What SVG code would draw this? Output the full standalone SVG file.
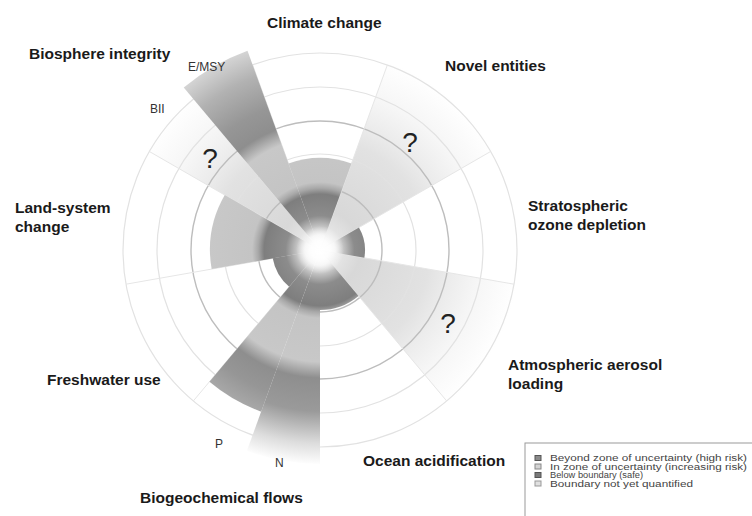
<svg xmlns="http://www.w3.org/2000/svg" width="752" height="516" viewBox="0 0 752 516">
<style>
.lbl{font-family:"Liberation Sans",Arial,sans-serif;font-weight:bold;font-size:15.5px;fill:#1a1a1a}
.sub{font-family:"Liberation Sans",Arial,sans-serif;font-size:12px;fill:#333}
.q{font-family:"Liberation Sans",Arial,sans-serif;font-size:28px;fill:#222}
.leg{font-family:"Liberation Sans",Arial,sans-serif;font-size:8.3px;fill:#444}
.ring{fill:none;stroke:#e2e2e2;stroke-width:1.2}
.ringd{fill:none;stroke:#bdbdbd;stroke-width:1.4}
.ray{stroke:#e6e6e6;stroke-width:1}
.quant{fill:url(#gq)}
.unq{fill:url(#gu)}
</style>
<defs>
<radialGradient id="gq" gradientUnits="userSpaceOnUse" cx="320" cy="250" r="215">
<stop offset="0" stop-color="#ffffff"/>
<stop offset="0.07" stop-color="#eeeeee"/>
<stop offset="0.16" stop-color="#8c8c8c"/>
<stop offset="0.26" stop-color="#7e7e7e"/>
<stop offset="0.288" stop-color="#a8a8a8"/>
<stop offset="0.316" stop-color="#c4c4c4"/>
<stop offset="0.52" stop-color="#c8c8c8"/>
<stop offset="0.595" stop-color="#8e8e8e"/>
<stop offset="0.7" stop-color="#969696"/>
<stop offset="0.86" stop-color="#b2b2b2"/>
<stop offset="1" stop-color="#d8d8d8"/>
</radialGradient>
<radialGradient id="gn" gradientUnits="userSpaceOnUse" cx="320" cy="250" r="215">
<stop offset="0" stop-color="#ffffff"/>
<stop offset="0.07" stop-color="#eeeeee"/>
<stop offset="0.16" stop-color="#8c8c8c"/>
<stop offset="0.26" stop-color="#7e7e7e"/>
<stop offset="0.288" stop-color="#a8a8a8"/>
<stop offset="0.316" stop-color="#c4c4c4"/>
<stop offset="0.52" stop-color="#c8c8c8"/>
<stop offset="0.595" stop-color="#8e8e8e"/>
<stop offset="0.75" stop-color="#9a9a9a"/>
<stop offset="0.9" stop-color="#dddddd"/>
<stop offset="1" stop-color="#ffffff"/>
</radialGradient>
<radialGradient id="gu" gradientUnits="userSpaceOnUse" cx="320" cy="250" r="200">
<stop offset="0" stop-color="#ffffff"/>
<stop offset="0.08" stop-color="#e8e8e8"/>
<stop offset="0.2" stop-color="#d8d8d8"/>
<stop offset="0.55" stop-color="#e2e2e2"/>
<stop offset="0.66" stop-color="#ececec"/>
<stop offset="0.8" stop-color="#f6f6f6"/>
<stop offset="1" stop-color="#ffffff"/>
</radialGradient>
<radialGradient id="glow" gradientUnits="userSpaceOnUse" cx="320" cy="250" r="24">
<stop offset="0" stop-color="#ffffff" stop-opacity="1"/>
<stop offset="0.4" stop-color="#ffffff" stop-opacity="0.85"/>
<stop offset="1" stop-color="#ffffff" stop-opacity="0"/>
</radialGradient>
</defs>
<rect width="752" height="516" fill="#ffffff"/>

<g id="unquantified">
<g id="novel-entities-wedge"><path class="unq" d="M320,250 L388.4,62.06 A200,200 0 0 1 493.2,150 Z"/></g>
<g id="aerosol-wedge"><path class="unq" d="M320,250 L516.96,284.72 A200,200 0 0 1 448.56,403.2 Z"/></g>
<g id="bii-wedge"><path class="unq" d="M320,250 L146.8,150 A200,200 0 0 1 191.44,96.8 Z"/></g>
</g>

<g id="grid">
<circle class="ring" cx="320" cy="250" r="197"/>
<circle class="ring" cx="320" cy="250" r="163"/>
<circle class="ringd" cx="320" cy="250" r="129"/>
<circle class="ring" cx="320" cy="250" r="96"/>
<circle class="ringd" cx="320" cy="250" r="62"/>
<line class="ray" x1="320" y1="250" x2="387.38" y2="64.88"/>
<line class="ray" x1="320" y1="250" x2="490.6" y2="151.5"/>
<line class="ray" x1="320" y1="250" x2="514.01" y2="284.2"/>
<line class="ray" x1="320" y1="250" x2="446.63" y2="400.9"/>
<line class="ray" x1="320" y1="250" x2="193.37" y2="400.9"/>
<line class="ray" x1="320" y1="250" x2="125.99" y2="284.2"/>
<line class="ray" x1="320" y1="250" x2="149.4" y2="151.5"/>
<line class="ray" x1="320" y1="250" x2="252.62" y2="64.88"/>
</g>

<g id="quantified">
<g id="climate-wedge"><path class="quant" d="M320,250 L288.54,163.55 A92,92 0 0 1 351.46,163.55 Z"/></g>
<g id="ozone-wedge"><path class="quant" d="M320,250 L358.97,227.5 A45,45 0 0 1 364.32,257.81 Z"/></g>
<g id="ocean-wedge"><path class="quant" d="M320,250 L358.57,295.96 A60,60 0 0 1 320,310 Z"/></g>
<g id="n-wedge"><path fill="url(#gn)" d="M320,250 L320,464 A214,214 0 0 1 246.81,451.1 Z"/></g>
<g id="p-wedge"><path class="quant" d="M320,250 L261.18,411.63 A172,172 0 0 1 209.44,381.75 Z"/></g>
<g id="freshwater-wedge"><path class="quant" d="M320,250 L289.15,286.77 A48,48 0 0 1 272.73,258.33 Z"/></g>
<g id="land-wedge"><path class="quant" d="M320,250 L211.67,269.1 A110,110 0 0 1 224.74,195 Z"/></g>
<g id="emsy-wedge"><path class="quant" d="M320,250 L183.73,87.61 A212,212 0 0 1 247.5,50.78 Z"/></g>
</g>
<circle cx="320" cy="250" r="24" fill="url(#glow)"/>

<g id="question-marks">
<text class="q" x="210" y="168" text-anchor="middle">?</text>
<text class="q" x="410" y="152" text-anchor="middle">?</text>
<text class="q" x="448" y="333" text-anchor="middle">?</text>
</g>

<g id="labels">
<g id="climate-change"><text class="lbl" x="267" y="28">Climate change</text></g>
<g id="biosphere-integrity"><text class="lbl" x="29" y="59">Biosphere integrity</text>
<text class="sub" x="188" y="70.5">E/MSY</text>
<text class="sub" x="150" y="113">BII</text></g>
<g id="novel-entities"><text class="lbl" x="445" y="71">Novel entities</text></g>
<g id="stratospheric"><text class="lbl" x="528" y="211">Stratospheric</text><text class="lbl" x="528" y="230">ozone depletion</text></g>
<g id="land-system"><text class="lbl" x="15" y="213">Land-system</text><text class="lbl" x="15" y="232">change</text></g>
<g id="freshwater"><text class="lbl" x="47" y="385">Freshwater use</text></g>
<g id="aerosol"><text class="lbl" x="508" y="370">Atmospheric aerosol</text><text class="lbl" x="508" y="389">loading</text></g>
<g id="ocean"><text class="lbl" x="363" y="466">Ocean acidification</text></g>
<g id="biogeochemical"><text class="lbl" x="140" y="503">Biogeochemical flows</text>
<text class="sub" x="215" y="448">P</text>
<text class="sub" x="275" y="467">N</text></g>
</g>

<g id="legend">
<rect x="525" y="443" width="240" height="90" fill="#ffffff" stroke="#9a9a9a" stroke-width="1"/>
<rect x="535" y="455.5" width="6" height="5" fill="#8a8a8a" stroke="#555"/>
<rect x="535" y="464" width="6" height="5" fill="#d4d4d4" stroke="#888"/>
<rect x="535" y="472.5" width="6" height="5" fill="#7a7a7a" stroke="#555"/>
<rect x="535" y="481" width="6" height="5" fill="#e0e0e0" stroke="#999"/>
<text class="leg" x="550" y="461" textLength="197" lengthAdjust="spacingAndGlyphs">Beyond zone of uncertainty (high risk)</text>
<text class="leg" x="550" y="469.5" textLength="197" lengthAdjust="spacingAndGlyphs">In zone of uncertainty (increasing risk)</text>
<text class="leg" x="550" y="478" textLength="93" lengthAdjust="spacingAndGlyphs">Below boundary (safe)</text>
<text class="leg" x="550" y="486.5" textLength="143" lengthAdjust="spacingAndGlyphs">Boundary not yet quantified</text>
</g>
</svg>
